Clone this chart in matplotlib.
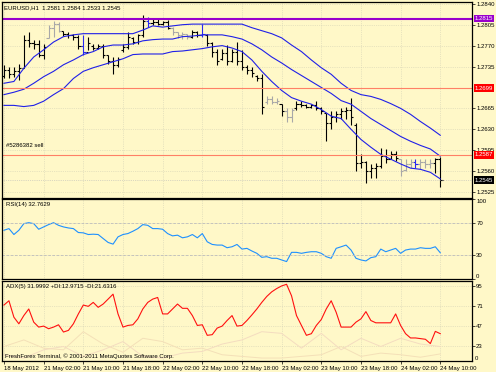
import matplotlib
matplotlib.use('Agg')
import matplotlib.pyplot as plt
import matplotlib.transforms as mtrans
import numpy as np

plt.rcParams['font.family'] = ['Liberation Sans', 'DejaVu Sans']
FS = 4.3
BG = '#FFF8C8'

# EURUSD H1 bars, 18 May 2012 18:00 .. 24 May 2012 10:00
opens = [1.2720, 1.2730, 1.2722, 1.2728, 1.2733, 1.2780, 1.2775, 1.2772, 1.2755, 1.2783,
         1.2800, 1.2806, 1.2795, 1.2790, 1.2788, 1.2784, 1.2770, 1.2760, 1.2770, 1.2766,
         1.2770, 1.2755, 1.2745, 1.2738, 1.2762, 1.2768, 1.2782, 1.2776, 1.2787, 1.2812,
         1.2808, 1.2810, 1.2807, 1.2810, 1.2800, 1.2792, 1.2787, 1.2790, 1.2784, 1.2792,
         1.2788, 1.2788, 1.2775, 1.2760, 1.2748, 1.2758, 1.2745, 1.2760, 1.2745, 1.2735,
         1.2730, 1.2720, 1.2715, 1.2675, 1.2680, 1.2676, 1.2673, 1.2660, 1.2650, 1.2665,
         1.2672, 1.2670, 1.2668, 1.2670, 1.2666, 1.2657, 1.2640, 1.2650, 1.2655, 1.2660,
         1.2663, 1.2638, 1.2573, 1.2575, 1.2560, 1.2565, 1.2568, 1.2585, 1.2580, 1.2588,
         1.2580, 1.2562, 1.2572, 1.2575, 1.2572, 1.2576, 1.2572, 1.2574, 1.2581]
highs = [1.2737, 1.2735, 1.2735, 1.2740, 1.2788, 1.2792, 1.2780, 1.2780, 1.2772, 1.2805,
         1.2811, 1.2810, 1.2795, 1.2793, 1.2790, 1.2788, 1.2788, 1.2785, 1.2773, 1.2773,
         1.2773, 1.2755, 1.2751, 1.2751, 1.2772, 1.2792, 1.2785, 1.2790, 1.2821, 1.2818,
         1.2816, 1.2815, 1.2811, 1.2813, 1.2801, 1.2793, 1.2793, 1.2790, 1.2796, 1.2795,
         1.2806, 1.2790, 1.2776, 1.2765, 1.2765, 1.2771, 1.2765, 1.2776, 1.2763, 1.2738,
         1.2735, 1.2721, 1.2723, 1.2685, 1.2685, 1.2682, 1.2673, 1.2665, 1.2665, 1.2677,
         1.2677, 1.2673, 1.2673, 1.2677, 1.2668, 1.2657, 1.2660, 1.2660, 1.2665, 1.2668,
         1.2683, 1.2640, 1.2588, 1.2577, 1.2572, 1.2573, 1.2598, 1.2597, 1.2593, 1.2593,
         1.2580, 1.2580, 1.2580, 1.2580, 1.2580, 1.2580, 1.2580, 1.2582, 1.2584]
lows = [1.2715, 1.2715, 1.2717, 1.2712, 1.2732, 1.2768, 1.2765, 1.2751, 1.2748, 1.2782,
        1.2785, 1.2793, 1.2786, 1.2783, 1.2780, 1.2765, 1.2755, 1.2763, 1.2763, 1.2765,
        1.2750, 1.2740, 1.2723, 1.2735, 1.2760, 1.2765, 1.2772, 1.2772, 1.2785, 1.2801,
        1.2805, 1.2805, 1.2805, 1.2798, 1.2788, 1.2783, 1.2781, 1.2781, 1.2783, 1.2785,
        1.2785, 1.2770, 1.2751, 1.2738, 1.2746, 1.2737, 1.2743, 1.2738, 1.2730, 1.2723,
        1.2718, 1.2710, 1.2655, 1.2672, 1.2672, 1.2672, 1.2652, 1.2643, 1.2643, 1.2663,
        1.2668, 1.2665, 1.2665, 1.2663, 1.2655, 1.2610, 1.2630, 1.2643, 1.2648, 1.2648,
        1.2638, 1.2560, 1.2565, 1.2540, 1.2548, 1.2548, 1.2565, 1.2573, 1.2580, 1.2577,
        1.2552, 1.2560, 1.2565, 1.2565, 1.2563, 1.2565, 1.2565, 1.2557, 1.2533]
closes = [1.2730, 1.2722, 1.2728, 1.2733, 1.2780, 1.2775, 1.2772, 1.2755, 1.2768, 1.2800,
          1.2806, 1.2795, 1.2790, 1.2788, 1.2784, 1.2770, 1.2760, 1.2775, 1.2766, 1.2770,
          1.2755, 1.2745, 1.2738, 1.2748, 1.2768, 1.2785, 1.2776, 1.2787, 1.2812, 1.2808,
          1.2810, 1.2807, 1.2810, 1.2800, 1.2792, 1.2787, 1.2790, 1.2784, 1.2792, 1.2788,
          1.2790, 1.2775, 1.2760, 1.2745, 1.2758, 1.2745, 1.2760, 1.2745, 1.2735, 1.2730,
          1.2725, 1.2715, 1.2668, 1.2680, 1.2676, 1.2678, 1.2660, 1.2650, 1.2662, 1.2672,
          1.2670, 1.2668, 1.2670, 1.2666, 1.2660, 1.2640, 1.2650, 1.2655, 1.2660, 1.2663,
          1.2650, 1.2573, 1.2575, 1.2560, 1.2565, 1.2568, 1.2585, 1.2580, 1.2588, 1.2582,
          1.2560, 1.2572, 1.2575, 1.2572, 1.2576, 1.2572, 1.2574, 1.2580, 1.2545]
gray_bars = [9, 10, 11, 34, 35, 36, 37, 53, 54, 55, 57, 58, 80, 81, 82, 84, 85, 86]
blue_bars = [16, 29, 40, 83]

# channel lines, read every second bar
band_bars = list(range(0, 89, 2))
band_up = [1.2707, 1.2710, 1.2732, 1.2751, 1.2763, 1.2776, 1.2785, 1.2788, 1.2790, 1.2790,
           1.2790, 1.2790, 1.2790, 1.2790, 1.2796, 1.2803, 1.2801, 1.2803, 1.2805, 1.2806,
           1.2806, 1.2806, 1.2806, 1.2806, 1.2806, 1.2800, 1.2795, 1.2790, 1.2783, 1.2771,
           1.2760, 1.2746, 1.2733, 1.2722, 1.2707, 1.2695, 1.2688, 1.2685, 1.2680, 1.2673,
           1.2665, 1.2655, 1.2643, 1.2632, 1.2620]
band_mid = [1.2688, 1.2692, 1.2697, 1.2707, 1.2718, 1.2727, 1.2738, 1.2746, 1.2755, 1.2760,
            1.2768, 1.2771, 1.2771, 1.2773, 1.2778, 1.2780, 1.2781, 1.2781, 1.2785, 1.2786,
            1.2788, 1.2788, 1.2788, 1.2785, 1.2781, 1.2773, 1.2763, 1.2751, 1.2741, 1.2730,
            1.2720, 1.2710, 1.2700, 1.2690, 1.2678, 1.2672, 1.2660, 1.2648, 1.2638, 1.2628,
            1.2618, 1.2610, 1.2603, 1.2597, 1.2585]
band_low = [1.2670, 1.2670, 1.2668, 1.2670, 1.2677, 1.2688, 1.2698, 1.2715, 1.2727, 1.2733,
            1.2738, 1.2743, 1.2748, 1.2755, 1.2756, 1.2756, 1.2756, 1.2760, 1.2761, 1.2763,
            1.2765, 1.2768, 1.2770, 1.2766, 1.2760, 1.2746, 1.2727, 1.2710, 1.2695, 1.2683,
            1.2677, 1.2672, 1.2663, 1.2652, 1.2648, 1.2630, 1.2613, 1.2600, 1.2588, 1.2580,
            1.2572, 1.2565, 1.2563, 1.2558, 1.2547]

rsi = [60.9, 63.0, 55.6, 60.9, 69.2, 70.4, 69.2, 62.2, 65.1, 68.0,
       70.4, 67.1, 65.1, 63.8, 63.0, 58.1, 57.7, 55.6, 56.0, 55.6,
       50.6, 45.7, 43.6, 52.7, 55.6, 56.8, 59.7, 63.0, 68.0, 67.1,
       63.0, 63.0, 62.2, 56.8, 53.9, 54.8, 51.5, 52.7, 55.6, 51.5,
       56.8, 46.5, 43.2, 42.4, 42.4, 39.1, 40.3, 43.2, 37.4, 38.3,
       35.0, 32.1, 27.1, 27.9, 25.9, 25.9, 23.8, 21.8, 33.3, 33.3,
       32.1, 33.3, 34.1, 34.1, 32.1, 27.9, 25.9, 38.3, 40.3, 42.4,
       36.2, 25.9, 23.8, 22.6, 26.7, 27.9, 37.4, 34.1, 36.2, 38.3,
       32.1, 36.2, 37.4, 37.4, 39.1, 38.3, 38.3, 40.3, 32.8]
adx = [72.4, 77.6, 57.6, 49.6, 59.6, 67.6, 51.6, 45.6, 46.8, 43.6,
       45.6, 48.4, 39.6, 41.6, 49.6, 61.6, 72.4, 70.8, 75.6, 69.6,
       73.6, 79.6, 85.6, 61.6, 45.6, 47.6, 48.4, 55.6, 67.6, 75.6,
       79.6, 81.6, 61.6, 61.6, 67.6, 73.6, 68.4, 68.4, 59.6, 47.6,
       48.4, 35.6, 36.4, 44.4, 46.8, 53.6, 59.6, 46.8, 47.6, 53.6,
       60.4, 67.6, 75.6, 82.8, 88.4, 92.4, 95.6, 97.6, 83.6, 59.6,
       47.6, 35.6, 37.6, 47.6, 54.8, 67.6, 77.6, 63.6, 45.6, 45.6,
       45.6, 51.6, 55.6, 64.4, 53.6, 50.8, 50.8, 50.8, 50.8, 61.6,
       47.6, 37.6, 32.4, 32.4, 31.6, 30.8, 25.6, 40.4, 37.6]
# faint +DI / -DI lines, read every fourth bar
di_bars = list(range(0, 89, 4))
plus_di = [22, 30, 20, 18, 40, 25, 15, 32, 28, 18, 20, 12,
           10, 8, 8, 10, 12, 22, 10, 14, 12, 9, 13]
minus_di = [12, 8, 18, 22, 10, 18, 28, 10, 8, 14, 16, 25,
            30, 40, 38, 20, 38, 18, 32, 22, 32, 25, 22]

tick_bars = list(range(0, 89, 8))
tick_labels = ['18 May 2012', '21 May 02:00', '21 May 10:00', '21 May 18:00', '22 May 02:00',
               '22 May 10:00', '22 May 18:00', '23 May 02:00', '23 May 10:00', '23 May 18:00',
               '24 May 02:00', '24 May 10:00']
price_ticks = [1.2840, 1.2805, 1.2770, 1.2735, 1.2665, 1.2630, 1.2595, 1.2560, 1.2525]

fig = plt.figure(figsize=(4.96, 3.72), dpi=100, facecolor=BG)


def px_axes(x0, y0, x1, y1):
    """axes from pixel box (top-left origin)"""
    a = fig.add_axes([x0 / 496, 1 - y1 / 372, (x1 - x0) / 496, (y1 - y0) / 372])
    a.set_facecolor(BG)
    for s in a.spines.values():
        s.set_linewidth(0.9)
        s.set_color('black')
    a.set_xlim(-0.4, 94.4)
    a.set_xticks(tick_bars)
    a.yaxis.tick_right()
    a.tick_params(axis='y', labelsize=FS, length=2, width=0.5, pad=1)
    a.tick_params(axis='x', length=0, labelbottom=False)
    a.grid(True, color='#D2D0B4', ls=':', lw=0.5)
    return a


ax = px_axes(2, 2, 472, 198)
ax_rsi = px_axes(2, 199, 472, 279)
ax_adx = px_axes(2, 281, 472, 361)

# price bars
n = len(closes)
x = np.arange(n)
cols = ['black'] * n
for i in gray_bars:
    cols[i] = '#A8A8A8'
for i in blue_bars:
    cols[i] = '#2828F0'
ax.vlines(x, lows, highs, colors=cols, lw=0.8)
ax.hlines(opens, x - 0.45, x, colors=cols, lw=0.8)
ax.hlines(closes, x, x + 0.45, colors=cols, lw=0.8)

for band in (band_up, band_mid, band_low):
    ax.plot(band_bars, band, color='#2020E8', lw=0.8)

ax.axhline(1.2815, color='#9900CC', lw=1.5)
ax.axhline(1.2699, color='#FF8066', lw=0.8)
ax.axhline(1.2587, color='#FF8066', lw=0.8)
ax.axhline(1.2545, color='#B8B8B8', ls=':', lw=0.5)

ax.set_ylim(1.2515, 1.2843)
ax.set_yticks(price_ticks)
ax.set_yticklabels(['%.4f' % p for p in price_ticks])

trans = mtrans.blended_transform_factory(ax.transAxes, ax.transData)
for price, bg in [(1.2815, '#9900CC'), (1.2699, '#FF0000'), (1.2587, '#FF0000'), (1.2545, '#000000')]:
    ax.text(1.006, price, '%.4f' % price, transform=trans, color='white', fontsize=FS,
            va='center', ha='left', bbox=dict(boxstyle='square,pad=0.2', fc=bg, ec='none'))

ax.text(0.004, 0.985, 'EURUSD,H1  1.2581 1.2584 1.2533 1.2545', transform=ax.transAxes,
        fontsize=FS, va='top', ha='left')
ax.text(0.008, 1.2603, '#5286382 sell', fontsize=FS, va='center', ha='left',
        transform=trans)

# RSI window
ax_rsi.plot(x, rsi, color='#1E90FF', lw=0.8)
for lvl in (70, 30):
    ax_rsi.axhline(lvl, color='#BDBDBD', ls=(0, (3, 2)), lw=0.6)
ax_rsi.set_ylim(0, 100)
ax_rsi.set_yticks([0, 30, 70, 100])
ax_rsi.set_yticklabels(['0', '30', '70', '100'])
lab = ax_rsi.get_yticklabels()
lab[0].set_va('bottom')
lab[-1].set_va('top')
ax_rsi.text(0.008, 0.96, 'RSI(14) 32.7629', transform=ax_rsi.transAxes,
            fontsize=FS, va='top', ha='left')

# ADX window
ax_adx.plot(di_bars, plus_di, color='#F4E0B8', lw=0.7)
ax_adx.plot(di_bars, minus_di, color='#F4DCC0', lw=0.7)
ax_adx.plot(x, adx, color='#FF1010', lw=0.8)
ax_adx.set_ylim(4.4, 101.6)
ax_adx.set_yticks([23, 47, 71, 95])
ax_adx.text(1.006, 0.0, '0', transform=ax_adx.transAxes, fontsize=FS, va='bottom', ha='left')
ax_adx.text(0.008, 0.96, 'ADX(5) 31.9992 +DI:12.9715 -DI:21.6316', transform=ax_adx.transAxes,
            fontsize=FS, va='top', ha='left')
ax_adx.text(0.006, 0.03, 'FreshForex Terminal, \u00a9 2001-2011 MetaQuotes Software Corp.',
            transform=ax_adx.transAxes, fontsize=FS, va='bottom', ha='left')
ax_adx.set_xticklabels(tick_labels, ha='left')
ax_adx.tick_params(axis='x', length=2.5, width=0.5, pad=1, labelsize=FS, labelbottom=True)

fig.savefig('out.png', dpi=100, facecolor=BG)
